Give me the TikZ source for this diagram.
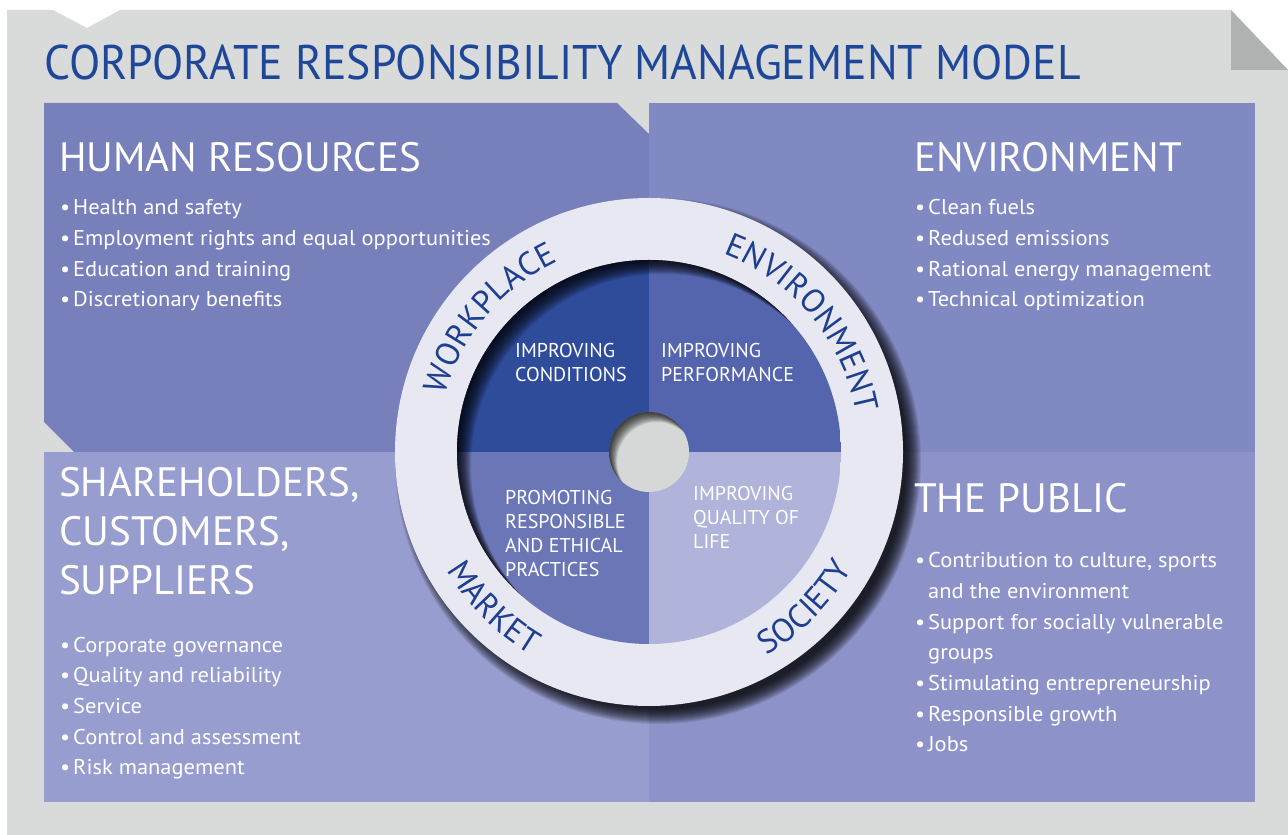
\documentclass[tikz,border=0pt]{standalone}
\usepackage{fontspec}
\setmainfont{PT Sans}
\newfontfamily\titlefont[FakeStretch=0.94]{PT Sans}
\newfontfamily\bodyfont[FakeStretch=1.05]{PT Sans}
\usetikzlibrary{decorations.text}

\definecolor{paper}{HTML}{D9DBDA}
\definecolor{fold}{HTML}{B0B2B1}
\definecolor{quadHR}{HTML}{7880BC}
\definecolor{quadEN}{HTML}{8189C2}
\definecolor{quadSH}{HTML}{989DCF}
\definecolor{quadPU}{HTML}{8D93C8}
\definecolor{coreHR}{HTML}{2F4C9B}
\definecolor{coreEN}{HTML}{5465AD}
\definecolor{coreSH}{HTML}{6B76B7}
\definecolor{corePU}{HTML}{B0B3DA}
\definecolor{ringfill}{HTML}{E8E8F3}
\definecolor{ringtext}{HTML}{1D3F8E}
\definecolor{titleblue}{HTML}{1F4799}
\definecolor{holefill}{HTML}{D6D8D7}

\newcommand\itm{\makebox[13pt][l]{\textbullet}}
\newcommand\noitm{\makebox[13pt]{}}

% multi-line nodes below sit on the baseline of their LAST line
\tikzset{
  heading/.style={anchor=base west, inner sep=0pt, text=white, align=left,
    font=\fontsize{41}{49}\selectfont},
  bullets/.style={anchor=base west, inner sep=0pt, text=white, align=left,
    font=\bodyfont\fontsize{21.4}{30.7}\selectfont},
  corelabel/.style={anchor=base west, inner sep=0pt, text=white, align=left,
    font=\fontsize{20}{24.3}\selectfont},
  ringlabel/.style={decorate, decoration={text along path, text align=center,
    text={|\fontsize{33}{33}\selectfont\color{ringtext}|#1}}},
}

\begin{document}
\begin{tikzpicture}[x=1pt, y=1pt]
% ---- wheel geometry (px of the original sheet)
\def\cx{649}
\def\cy{383}
\def\rout{254}   % outer edge of the ring
\def\rin{192}    % inner coloured disc
\def\rhole{40}   % hub
\def\rtop{211.5} % baseline of the upper ring words
\def\rbot{234.5} % baseline of the lower ring words
% ---- end of geometry

\useasboundingbox (0,0) rectangle (1288,835);
\coordinate (C) at (\cx,\cy);

% sheet with notch and folded corner
\fill[paper] (7,825) -- (53,825) -- (87,807) -- (120,825) -- (1231,825)
  -- (1288,765) -- (1288,0) -- (7,0) -- cycle;
\fill[fold] (1231,825) -- (1231,765) -- (1288,765) -- cycle;

% four quadrants
\fill[quadHR] (44,732) -- (617,732) -- (649,701) -- (649,383) -- (74,383)
  -- (44,413) -- cycle;
\fill[quadEN] (649,732) rectangle (1255,383);
\fill[quadSH] (44,383) rectangle (649,33);
\fill[quadPU] (649,383) rectangle (1255,33);

% soft shadow of the ring
\foreach \r in {248,...,263}
  \fill[black, opacity=0.09] ([shift={(9,-9)}]C) circle (\r);

% ring
\fill[ringfill] (C) circle (\rout);

% coloured core
\begin{scope}
  \clip (C) circle (\rin);
  \fill[coreHR] (C) rectangle ++(-\rin,\rin);
  \fill[coreEN] (C) rectangle ++(\rin,\rin);
  \fill[coreSH] (C) rectangle ++(-\rin,-\rin);
  \fill[corePU] (C) rectangle ++(\rin,-\rin);
  \foreach \d in {1,...,14}
    \fill[black, opacity=0.1, even odd rule] (C) circle (\rin+30)
      ([shift={(\d,-\d)}]C) circle (\rin);
\end{scope}

% hub
\fill[holefill] (C) circle (\rhole);
\begin{scope}
  \clip (C) circle (\rhole);
  \foreach \d in {1,...,10}
    \fill[black, opacity=0.11, even odd rule] (C) circle (\rhole+20)
      ([shift={(0.8*\d,-\d)}]C) circle (\rhole);
\end{scope}

% words on the ring
\path[ringlabel=WORKPLACE] ([shift={(190:\rtop)}]C) arc[start angle=190, end angle=90, radius=\rtop];
\path[ringlabel=ENVIRONMENT] ([shift={(90:\rtop)}]C) arc[start angle=90, end angle=-10, radius=\rtop];
\path[ringlabel=MARKET] ([shift={(175:\rbot)}]C) arc[start angle=175, end angle=275, radius=\rbot];
\path[ringlabel=SOCIETY] ([shift={(265:\rbot)}]C) arc[start angle=265, end angle=365, radius=\rbot];

% core labels
\node[corelabel] (core-hr) at (515,453) {IMPROVING\\CONDITIONS};
\node[corelabel] (core-en) at (661,453) {IMPROVING\\PERFORMANCE};
\node[corelabel] (core-sh) at (505,258) {PROMOTING\\RESPONSIBLE\\AND ETHICAL\\PRACTICES};
\node[corelabel] (core-pu) at (693,286) {IMPROVING\\QUALITY OF\\LIFE};

% title
\node[anchor=base west, inner sep=0pt, text=titleblue,
  font=\titlefont\fontsize{48.6}{50}\selectfont] (title) at (44,755)
  {CORPORATE RESPONSIBILITY MANAGEMENT MODEL};

% quadrant texts
\node[heading] (hr-head) at (59,663) {HUMAN RESOURCES};
\node[bullets] (hr-list) at (60,528) {\itm Health and safety\\
  \itm Employment rights and equal opportunities\\
  \itm Education and training\\
  \itm Discretionary benefits};

\node[heading] (en-head) at (914,663) {ENVIRONMENT};
\node[bullets] (en-list) at (915,528) {\itm Clean fuels\\
  \itm Redused emissions\\
  \itm Rational energy management\\
  \itm Technical optimization};

\node[heading] (sh-head) at (59,240) {SHAREHOLDERS,\\CUSTOMERS,\\SUPPLIERS};
\node[bullets] (sh-list) at (60,60) {\itm Corporate governance\\
  \itm Quality and reliability\\
  \itm Service\\
  \itm Control and assessment\\
  \itm Risk management};

\node[heading] (pu-head) at (914,322) {THE PUBLIC};
\node[bullets] (pu-list) at (915,83) {\itm Contribution to culture, sports\\
  \noitm and the environment\\
  \itm Support for socially vulnerable\\
  \noitm groups\\
  \itm Stimulating entrepreneurship\\
  \itm Responsible growth\\
  \itm Jobs};
\end{tikzpicture}
\end{document}
